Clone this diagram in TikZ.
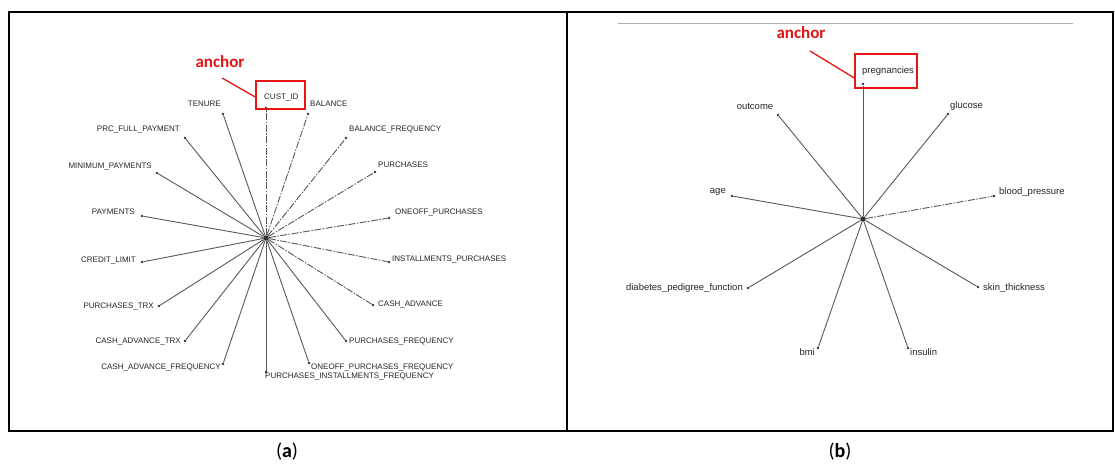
\documentclass[tikz,border=0pt]{standalone}
\usepackage{fontspec}
\setmainfont{Liberation Sans}
\newfontfamily\calfont{Carlito}
\definecolor{annred}{RGB}{230,20,20}
\begin{document}
\begin{tikzpicture}[x=1pt,y=-1pt,
  lbla/.style={font=\fontsize{8}{9}\selectfont, text=black!85, inner sep=0pt},
  lblb/.style={font=\fontsize{9.5}{11}\selectfont, text=black!85, inner sep=0pt},
  dotnode/.style={circle, fill=black!80, inner sep=0pt, minimum size=2.6pt},
  hubnode/.style={circle, fill=black!80, inner sep=0pt, minimum size=5.5pt},
  spoke/.style={draw=black!65, line width=0.9pt},
  dspoke/.style={spoke, dash pattern=on 7pt off 1.5pt on 1.5pt off 1.5pt},
  frame/.style={draw=black, line width=1.8pt},
  redbox/.style={rectangle, draw=annred, line width=1.4pt, fill=none, inner sep=0pt},
  redline/.style={draw=annred, line width=1.3pt},
  redlbl/.style={font=\calfont\bfseries\fontsize{17}{19}\selectfont, text=annred, inner sep=0pt},
  captxt/.style={font=\calfont\fontsize{20}{22}\selectfont, inner sep=0pt}]
\useasboundingbox (0,0) rectangle (1115,466);
\fill[white] (0,0) rectangle (1115,466);

% frame
\draw[frame] (9,12) rectangle (1113,431);
\draw[frame] (567,12) -- (567,431);

% ================= panel (a) =================
\node[hubnode] (h1) at (266,238) {};
\node[dotnode] (cu) at (266,108) {};
\node[dotnode] (te) at (223,114) {};
\node[dotnode] (ba) at (308,114) {};
\node[dotnode] (pr) at (185,138) {};
\node[dotnode] (bf) at (346,138) {};
\node[dotnode] (mi) at (157,173) {};
\node[dotnode] (pu) at (375,172) {};
\node[dotnode] (pa) at (142,216) {};
\node[dotnode] (oo) at (389,218) {};
\node[dotnode] (cl) at (142,262) {};
\node[dotnode] (ip) at (389,262) {};
\node[dotnode] (ptrx) at (159,306) {};
\node[dotnode] (ca) at (373,305) {};
\node[dotnode] (ct) at (185,341) {};
\node[dotnode] (pf) at (346,341) {};
\node[dotnode] (cf) at (223,364) {};
\node[dotnode] (of) at (309,363) {};
\node[dotnode] (pif) at (266,372) {};

\foreach \n in {te,pr,mi,pa,cl,ptrx,ct,cf,pif,of,pf}
  \draw[spoke] (h1) -- (\n);
\foreach \n in {cu,ba,bf,pu,oo,ip,ca}
  \draw[dspoke] (h1) -- (\n);

\node[lbla, anchor=west] (lcu) at (264,97) {CUST\_ID};
\node[lbla, anchor=east] (lte) at (221,104) {TENURE};
\node[lbla, anchor=west] (lba) at (310,104) {BALANCE};
\node[lbla, anchor=east] (lpr) at (180,129) {PRC\_FULL\_PAYMENT};
\node[lbla, anchor=west] (lbf) at (349,129) {BALANCE\_FREQUENCY};
\node[lbla, anchor=east] (lmi) at (152,166) {MINIMUM\_PAYMENTS};
\node[lbla, anchor=west] (lpu) at (378,165) {PURCHASES};
\node[lbla, anchor=east] (lpa) at (135,212) {PAYMENTS};
\node[lbla, anchor=west] (loo) at (395,212) {ONEOFF\_PURCHASES};
\node[lbla, anchor=east] (lcl) at (136,260) {CREDIT\_LIMIT};
\node[lbla, anchor=west] (lip) at (392,259) {INSTALLMENTS\_PURCHASES};
\node[lbla, anchor=east] (lptrx) at (154,306) {PURCHASES\_TRX};
\node[lbla, anchor=west] (lca) at (378,304) {CASH\_ADVANCE};
\node[lbla, anchor=east] (lct) at (181,341) {CASH\_ADVANCE\_TRX};
\node[lbla, anchor=west] (lpf) at (349,341) {PURCHASES\_FREQUENCY};
\node[lbla, anchor=east] (lcf) at (221,367) {CASH\_ADVANCE\_FREQUENCY};
\node[lbla, anchor=west] (lof) at (311,367) {ONEOFF\_PURCHASES\_FREQUENCY};
\node[lbla, anchor=west] (lpif) at (265,376) {PURCHASES\_INSTALLMENTS\_FREQUENCY};

% anchor annotation (a)
\node[redbox, minimum width=49pt, minimum height=28pt] (boxa) at (280.5,95) {};
\node[redlbl] (anca) at (220,62) {anchor};
\coordinate (ra1) at (222,78);
\draw[redline] (ra1) -- ([yshift=-2pt]boxa.west);

\node[captxt] (capa) at (287,452) {(\textbf{a})};

% ================= panel (b) =================
\coordinate (gl1) at (618,23);
\coordinate (gl2) at (1073,23);
\draw[black!30, line width=0.8pt] (gl1) -- (gl2);

\node[hubnode] (h2) at (863,219) {};
\node[dotnode] (pg) at (863,84) {};
\node[dotnode] (oc) at (778,115) {};
\node[dotnode] (gc) at (948,114) {};
\node[dotnode] (ag) at (732,196) {};
\node[dotnode] (bp) at (994,196) {};
\node[dotnode] (dp) at (748,288) {};
\node[dotnode] (sk) at (978,287) {};
\node[dotnode] (bm) at (818,348) {};
\node[dotnode] (ins) at (908,348) {};

\foreach \n in {pg,oc,gc,ag,dp,sk,bm,ins}
  \draw[spoke] (h2) -- (\n);
\draw[dspoke] (h2) -- (bp);

\node[lblb, anchor=west] (lpg) at (862,71) {pregnancies};
\node[lblb] (loc) at (755,106) {outcome};
\node[lblb, anchor=west] (lgc) at (950,106) {glucose};
\node[lblb, anchor=east] (lag) at (726,192) {age};
\node[lblb, anchor=west] (lbp) at (999,192) {blood\_pressure};
\node[lblb, anchor=east] (ldp) at (743,288) {diabetes\_pedigree\_function};
\node[lblb, anchor=west] (lsk) at (983,288) {skin\_thickness};
\node[lblb, anchor=east] (lbm) at (815,352) {bmi};
\node[lblb, anchor=west] (lins) at (910,352) {insulin};

% anchor annotation (b)
\node[redbox, minimum width=62pt, minimum height=34pt] (boxb) at (886,71) {};
\node[redlbl] (ancb) at (801,33) {anchor};
\coordinate (rb1) at (810,51);
\draw[redline] (rb1) -- ([yshift=-7pt]boxb.west);

\node[captxt] (capb) at (840,452) {(\textbf{b})};
\end{tikzpicture}
\end{document}
